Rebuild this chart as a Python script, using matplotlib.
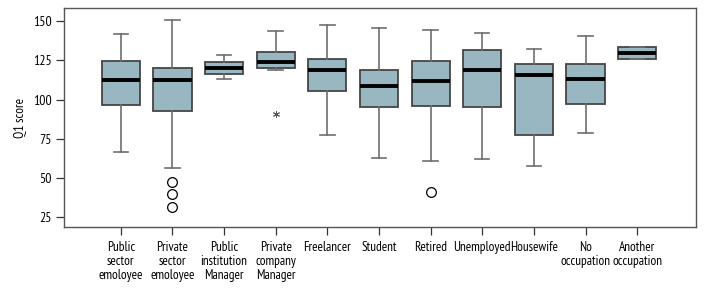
import matplotlib
matplotlib.use("Agg")
import matplotlib.pyplot as plt

plt.rcParams['font.family'] = ['PT Sans Narrow', 'Roboto Condensed', 'DejaVu Sans']

categories = ["Public\nsector\nemoloyee", "Private\nsector\nemoloyee", "Public\ninstitution\nManager",
              "Private\ncompany\nManager", "Freelancer", "Student", "Retired", "Unemployed",
              "Housewife", "No\noccupation", "Another\noccupation"]
whislo = [66.7, 56.2, 112.8, 118.8, 77.3, 62.6, 61.1, 62.4, 57.9, 78.8, 125.8]
q1 = [96.2, 93.0, 116.0, 120.0, 105.6, 95.4, 95.6, 95.4, 77.5, 96.9, 125.8]
med = [112.4, 112.4, 120.4, 123.9, 119.0, 108.5, 111.5, 118.8, 115.8, 113.2, 129.6]
q3 = [124.3, 120.0, 123.6, 130.0, 125.6, 118.5, 124.3, 131.3, 122.4, 122.8, 133.6]
whishi = [141.5, 150.6, 128.1, 143.4, 147.2, 145.5, 144.5, 142.3, 132.4, 140.2, 133.6]
circle_out = [[], [47.3, 40.1, 31.6], [], [], [], [], [41.2], [], [], [], []]
star_out = [[], [], [], [90.7], [], [], [], [], [], [], []]

stats = []
for i in range(len(categories)):
    stats.append(dict(whislo=whislo[i], q1=q1[i], med=med[i], q3=q3[i], whishi=whishi[i],
                      fliers=circle_out[i]))

fig = plt.figure(figsize=(7.2, 2.88), dpi=100)
ax = fig.add_axes([0.0889, 0.2118, 0.8778, 0.7604])

pos = list(range(1, len(categories) + 1))
ax.bxp(stats, positions=pos, widths=0.74, patch_artist=True,
       boxprops=dict(facecolor='#98b7c0', edgecolor='#454545', linewidth=1.3),
       medianprops=dict(color='black', linewidth=2.8),
       whiskerprops=dict(color='#6e6e6e', linewidth=1.2),
       capprops=dict(color='#6e6e6e', linewidth=1.2),
       capwidths=0.28,
       flierprops=dict(marker='o', markersize=7, markerfacecolor='none',
                       markeredgecolor='black', markeredgewidth=0.9))

# extreme values get an asterisk instead of a circle
for i, vals in enumerate(star_out):
    ax.plot([pos[i]] * len(vals), vals, linestyle='none', marker=(6, 2, 0),
            markersize=5, markeredgewidth=0.7, color='#555555')

ax.set_xlim(-0.1, 12.14)
ax.set_ylim(18.8, 158.3)
ax.set_yticks([25, 50, 75, 100, 125, 150])
ax.set_xticks(pos)
ax.set_xticklabels(categories, fontsize=9.5, linespacing=1.1, va='top')
ax.tick_params(axis='y', labelsize=10, length=6, width=0.9, color='#333333', pad=3)
ax.tick_params(axis='x', length=6, width=0.9, color='#333333', pad=4)
ax.set_ylabel("Q1 score", fontsize=9.5, labelpad=4)
for s in ax.spines.values():
    s.set_color('#555555')
    s.set_linewidth(1.0)

fig.savefig("out.png", dpi=100)
